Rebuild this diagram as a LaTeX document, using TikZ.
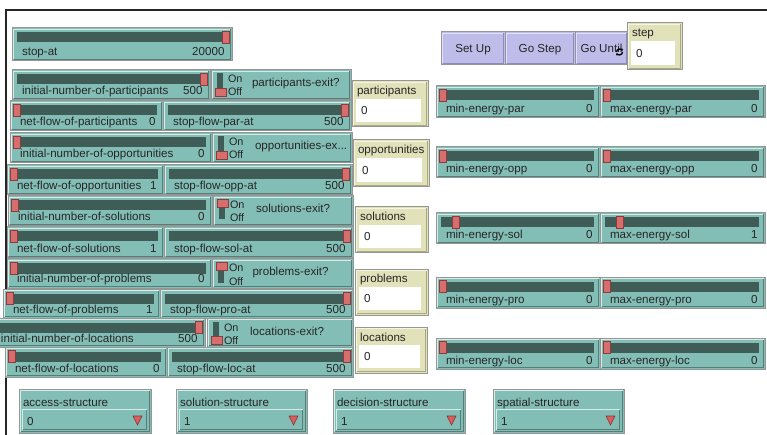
\documentclass[tikz,border=0pt]{standalone}
\usepackage{fontspec}
\setmainfont{Liberation Sans}
\usetikzlibrary{arrows.meta}
\definecolor{wteal}{RGB}{131,190,182}
\definecolor{wtrack}{RGB}{64,92,87}
\definecolor{wknob}{RGB}{214,110,110}
\definecolor{wknobd}{RGB}{140,60,60}
\definecolor{wmon}{RGB}{225,225,186}
\definecolor{wbtn}{RGB}{190,188,232}
\definecolor{wlight}{RGB}{214,236,232}
\definecolor{wdark}{RGB}{86,126,120}
\definecolor{wgray}{RGB}{150,150,150}
\definecolor{wmonl}{RGB}{245,245,225}
\definecolor{wmond}{RGB}{170,170,130}
\definecolor{wbtnl}{RGB}{225,224,250}
\definecolor{wbtnd}{RGB}{140,138,190}
\definecolor{wtri}{RGB}{215,95,95}
\definecolor{wtrid}{RGB}{130,50,50}
\tikzset{
  wbox/.style={draw=wgray, line width=1pt, anchor=north west, inner sep=0pt, outer sep=0pt},
  lbl/.style={font=\fontsize{11.6}{12}\selectfont, text=black!85, inner sep=0pt, outer sep=0pt},
  lblsmall/.style={font=\fontsize{10.8}{11}\selectfont, text=black!85, inner sep=0pt, outer sep=0pt},
  knob/.style={fill=wknob, draw=wknobd, line width=0.8pt},
  bevlight/.style={draw=wlight, line width=1pt},
  bevdark/.style={draw=wdark, line width=1pt}
}
% slider: name, left, top, right, bottom, label, value, fraction
\newcommand\nlslider[8]{%
  \node[wbox, fill=wteal, minimum width={((#4)-(#2))*1pt}, minimum height={((#5)-(#3))*1pt}] (#1) at (#2,#3) {};
  \draw[bevlight] ({#2+1.5},{#5-1.5}) |- ({#4-1.5},{#3+1.5});
  \draw[bevdark] ({#2+1.5},{#5-1.5}) -| ({#4-1.5},{#3+1.5});
  \fill[wtrack] ({#2+5},{#3+4.5}) rectangle ({#4-6},{#3+14.5});
  \pgfmathsetmacro\kx{#2+3+#8*((#4)-(#2)-13)}
  \draw[knob] (\kx,{#3+3.5}) rectangle ({\kx+7},{#3+15.5});
  \node[lbl, anchor=base west] (#1-label) at ({#2+10},{#5-5}) {#6};
  \node[lbl, anchor=base east] (#1-value) at ({#4-7.5},{#5-5}) {#7};
}
% switch: name, left, top, right, bottom, label, label x, knob top offset
\newcommand\nlswitch[8]{%
  \node[wbox, fill=wteal, minimum width={((#4)-(#2))*1pt}, minimum height={((#5)-(#3))*1pt}] (#1) at (#2,#3) {};
  \draw[bevlight] ({#2+1.5},{#5-1.5}) |- ({#4-1.5},{#3+1.5});
  \draw[bevdark] ({#2+1.5},{#5-1.5}) -| ({#4-1.5},{#3+1.5});
  \fill[wtrack] ({#2+6},{#3+3.5}) rectangle ({#2+12},{#3+23.5});
  \draw[knob] ({#2+4},{#3+#8}) rectangle ({#2+15},{#3+#8+8});
  \node[lblsmall, anchor=base west] (#1-on) at ({#2+17},{#3+13}) {On};
  \node[lblsmall, anchor=base west] (#1-off) at ({#2+17},{#3+26}) {Off};
  \node[lbl, anchor=base west] (#1-label) at (#7,{#3+17}) {#6};
}
% monitor: name, left, top, right, bottom, label, value
\newcommand\nlmonitor[7]{%
  \node[wbox, fill=wmon, minimum width={((#4)-(#2))*1pt}, minimum height={((#5)-(#3))*1pt}] (#1) at (#2,#3) {};
  \draw[draw=wmonl, line width=1pt] ({#2+1.5},{#5-1.5}) |- ({#4-1.5},{#3+1.5});
  \draw[draw=wmond, line width=1pt] ({#2+1.5},{#5-1.5}) -| ({#4-1.5},{#3+1.5});
  \fill[white] ({#2+4},{#3+18}) rectangle ({#4-7},{#5-5});
  \node[lbl, anchor=base west] (#1-label) at ({#2+5},{#3+14}) {#6};
  \node[lbl, anchor=base west] (#1-value) at ({#2+9},{(#3+18+#5-5)/2+4.2}) {#7};
}
% button: name, left, top, right, bottom, text
\newcommand\nlbutton[6]{%
  \node[wbox, fill=wbtn, minimum width={((#4)-(#2))*1pt}, minimum height={((#5)-(#3))*1pt}] (#1) at (#2,#3) {};
  \draw[draw=wbtnl, line width=1pt] ({#2+1.5},{#5-1.5}) |- ({#4-1.5},{#3+1.5});
  \draw[draw=wbtnd, line width=1pt] ({#2+1.5},{#5-1.5}) -| ({#4-1.5},{#3+1.5});
  \node[lbl, anchor=base] (#1-label) at ({(#2+#4)/2},{(#3+#5)/2+4.2}) {#6};
}
% chooser: name, left, top, right, bottom, label, value
\newcommand\nlchooser[7]{%
  \node[wbox, fill=wteal, minimum width={((#4)-(#2))*1pt}, minimum height={((#5)-(#3))*1pt}] (#1) at (#2,#3) {};
  \draw[bevlight] ({#2+1.5},{#5-1.5}) |- ({#4-1.5},{#3+1.5});
  \draw[bevdark] ({#2+1.5},{#5-1.5}) -| ({#4-1.5},{#3+1.5});
  \node[lbl, anchor=base west] (#1-label) at ({#2+4},{#3+17}) {#6};
  \draw[bevdark] ({#2+3.5},{#5-3.5}) -| ({#4-4.5},{#3+20.5});
  \draw[bevlight] ({#2+3.5},{#5-3.5}) |- ({#4-4.5},{#3+20.5});
  \node[lbl, anchor=base west] (#1-value) at ({#2+8},{#5-8}) {#7};
  \filldraw[fill=wtri, draw=wtrid, line width=0.6pt] ({#4-18},{#5-17}) -- ({#4-9},{#5-17}) -- ({#4-13.5},{#5-8}) -- cycle;
}
\begin{document}
\begin{tikzpicture}[x=1pt, y=-1pt]
\useasboundingbox (0,0) rectangle (767,435);
\clip (0,0) rectangle (767,435);
\fill[white] (0,0) rectangle (767,435);
% frame
\draw[line width=1.3pt, black!85] (6,435) -- (6,10) -- (767,10);

% sliders (left column)
\nlslider{stopat}{12}{28}{232}{61}{stop-at}{20000}{1}
\nlslider{inp}{12}{70}{210}{100}{initial-number-of-participants}{500}{1}
\nlslider{nfp}{10}{101}{163}{131}{net-flow-of-participants}{0}{0}
\nlslider{sfp}{163}{101}{351}{131}{stop-flow-par-at}{500}{1}
\nlslider{ino}{10}{133}{212}{163}{initial-number-of-opportunities}{0}{0}
\nlslider{nfo}{7}{165}{164}{195}{net-flow-of-opportunities}{1}{0}
\nlslider{sfo}{164}{165}{352}{195}{stop-flow-opp-at}{500}{1}
\nlslider{ins}{8}{196}{212}{226}{initial-number-of-solutions}{0}{0}
\nlslider{nfs}{7}{227}{164}{258}{net-flow-of-solutions}{1}{0}
\nlslider{sfs}{164}{227}{353}{258}{stop-flow-sol-at}{500}{1}
\nlslider{inpr}{7}{259}{212}{288}{initial-number-of-problems}{0}{0}
\nlslider{nfpr}{3}{289}{160}{318}{net-flow-of-problems}{1}{0}
\nlslider{sfpr}{160}{289}{353}{318}{stop-flow-pro-at}{500}{1}
\nlslider{inl}{-9}{318}{205}{347}{initial-number-of-locations}{500}{1}
\nlslider{nfl}{5}{347}{167}{377}{net-flow-of-locations}{0}{0}
\nlslider{sfl}{167}{347}{353}{377}{stop-flow-loc-at}{500}{1}

% switches
\nlswitch{swp}{211}{70}{351}{100}{participants-exit?}{252}{18}
\nlswitch{swo}{212}{133}{352}{163}{opportunities-ex...}{255}{18}
\nlswitch{sws}{213}{196}{353}{226}{solutions-exit?}{256}{3.5}
\nlswitch{swpr}{212}{259}{353}{288}{problems-exit?}{252.5}{3.5}
\nlswitch{swl}{207}{318}{353}{347}{locations-exit?}{250}{18}

% monitors
\nlmonitor{mpart}{352}{81}{428}{127}{participants}{0}
\nlmonitor{mopp}{353}{140}{429}{187}{opportunities}{0}
\nlmonitor{msol}{355}{207}{428}{253}{solutions}{0}
\nlmonitor{mprob}{355}{269}{428}{315}{problems}{0}
\nlmonitor{mloc}{355}{327}{427}{373}{locations}{0}

% energy sliders
\nlslider{minpar}{436}{86}{600}{118}{min-energy-par}{0}{0}
\nlslider{maxpar}{600}{86}{765}{118}{max-energy-par}{0}{0}
\nlslider{minopp}{436}{147}{600}{178}{min-energy-opp}{0}{0}
\nlslider{maxopp}{600}{147}{765}{178}{max-energy-opp}{0}{0}
\nlslider{minsol}{436}{213}{600}{244}{min-energy-sol}{0}{0.09}
\nlslider{maxsol}{600}{213}{765}{244}{max-energy-sol}{1}{0.09}
\nlslider{minpro}{436}{277}{600}{308}{min-energy-pro}{0}{0}
\nlslider{maxpro}{600}{277}{765}{308}{max-energy-pro}{0}{0}
\nlslider{minloc}{436}{338}{600}{369}{min-energy-loc}{0}{0}
\nlslider{maxloc}{600}{338}{765}{369}{max-energy-loc}{0}{0}

% buttons
\nlbutton{bset}{441}{32}{505}{65}{Set Up}
\nlbutton{bstep}{505}{32}{575}{65}{Go Step}
\nlbutton{buntil}{575}{32}{628}{65}{Go Until}
\draw[line width=1.3pt, black, -{Stealth[length=2.2pt,width=3pt]}] (622.5,52) arc (0:160:3);
\draw[line width=1.3pt, black, -{Stealth[length=2.2pt,width=3pt]}] (616.5,52) arc (180:340:3);
\nlmonitor{mstep}{627}{23}{682}{70}{step}{0}

% choosers
\nlchooser{cacc}{19}{389}{151}{433}{access-structure}{0}
\nlchooser{csol}{176}{389}{307}{433}{solution-structure}{1}
\nlchooser{cdec}{333}{389}{465}{433}{decision-structure}{1}
\nlchooser{cspa}{493}{389}{624}{433}{spatial-structure}{1}
\end{tikzpicture}
\end{document}
